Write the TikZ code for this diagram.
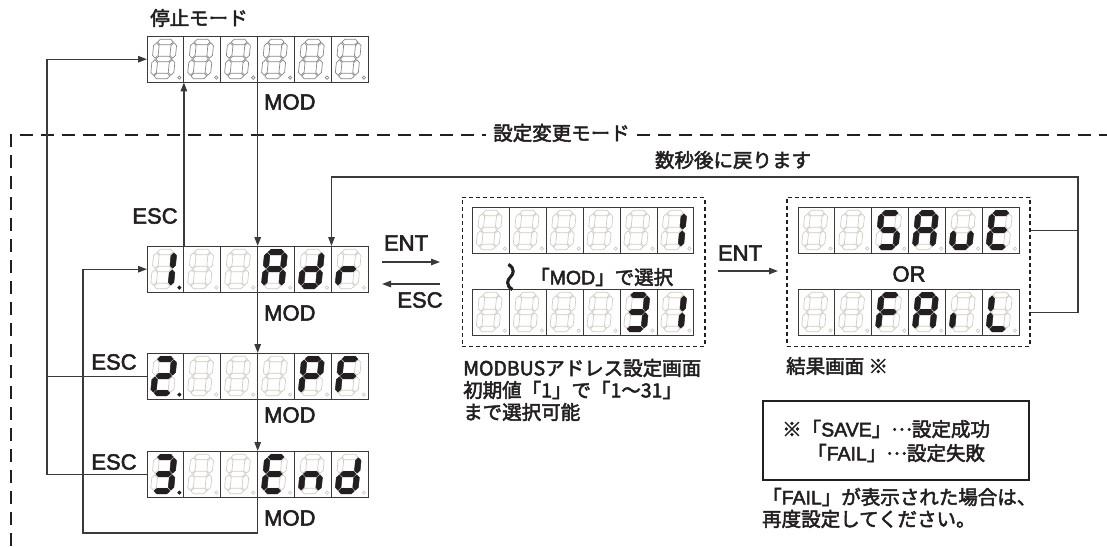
\documentclass[tikz,border=0pt]{standalone}
\usepackage{fontspec}
\setmainfont{Noto Sans CJK JP}[UprightFeatures={FakeBold=2.5}]
\newfontfamily\lat{Liberation Sans}[UprightFeatures={FakeBold=2.5}]
\usetikzlibrary{arrows.meta,calc}
\definecolor{ink}{HTML}{231F20}
\definecolor{ln}{HTML}{3A3A3A}
\definecolor{segoffc}{HTML}{CFCBC1}
\definecolor{segdark}{HTML}{868686}

\def\Xa{10.3}\def\Xb{27.7}\def\Ya{6}\def\Yb{40}\def\Ym{23}\def\Ht{2.8}\def\Gp{0.8}
\def\CW{36.9}

\newcommand\hseg[4]{\path[#1] ({#2},{#4}) -- ({#2+\Ht},{#4-\Ht}) -- ({#3-\Ht},{#4-\Ht}) -- ({#3},{#4}) -- ({#3-\Ht},{#4+\Ht}) -- ({#2+\Ht},{#4+\Ht}) -- cycle;}
\newcommand\vseg[4]{\path[#1] ({#2},{#3}) -- ({#2+\Ht},{#3+\Ht}) -- ({#2+\Ht},{#4-\Ht}) -- ({#2},{#4}) -- ({#2-\Ht},{#4-\Ht}) -- ({#2-\Ht},{#3+\Ht}) -- cycle;}
\def\sga#1{\hseg{#1}{\Xa+\Gp}{\Xb-\Gp}{\Ya}}
\def\sgd#1{\hseg{#1}{\Xa+\Gp}{\Xb-\Gp}{\Yb}}
\def\sgg#1{\hseg{#1}{\Xa+\Gp}{\Xb-\Gp}{\Ym}}
\def\sgf#1{\vseg{#1}{\Xa}{\Ya+\Gp}{\Ym-\Gp}}
\def\sgb#1{\vseg{#1}{\Xb}{\Ya+\Gp}{\Ym-\Gp}}
\def\sge#1{\vseg{#1}{\Xa}{\Ym+\Gp}{\Yb-\Gp}}
\def\sgc#1{\vseg{#1}{\Xb}{\Ym+\Gp}{\Yb-\Gp}}
\def\sgx#1{}
\newcommand\mdots{\raisebox{0.3em}{…}}

\newcommand\dispunit[4]{%
  \node[dispbox, anchor=north west] (#1) at #2 {};
  \foreach \segs/\dpv [count=\ci from 0] in {#4} {
    \begin{scope}[shift={($(#1.north west)+(\ci*\CW,0)$)}]
      \draw[cellbox] (0,0) rectangle (\CW,46);
      \begin{scope}[xslant=0.1]
        \foreach \q in {a,b,c,d,e,f,g} {\csname sg\q\endcsname{#3}}
        \foreach \q in \segs {\csname sg\q\endcsname{segon}}
      \end{scope}
      \ifnum\dpv=1 \path[segon] (32.4,41.6) circle (1.8);\else \path[#3] (32.4,41.6) circle (1.7);\fi
    \end{scope}
  }%
}

\begin{document}
\begin{tikzpicture}[x=1pt,y=-1pt,
  dispbox/.style={draw=none, minimum width=221.4pt, minimum height=46pt, inner sep=0pt},
  cellbox/.style={draw=ln, line width=0.9pt},
  segon/.style={fill=ink, draw=ink, line width=0.4pt},
  segoffL/.style={draw=segoffc, line width=0.7pt},
  segoffD/.style={draw=segdark, line width=0.7pt},
  conn/.style={draw=ln, line width=1.3pt},
  arr/.style={conn, -{Triangle[length=9pt,width=6.5pt]}},
  dotbox/.style={draw=ink, line width=1.6pt, dash pattern=on 4pt off 3pt, inner sep=0pt},
  bigdash/.style={draw=ink, line width=2pt, dash pattern=on 13pt off 8pt},
  lbl/.style={font=\lat\fontsize{22}{24}\selectfont, text=ink, inner sep=0pt},
  jp/.style={font=\fontsize{19.5}{22}\selectfont, text=ink, inner sep=0pt}]
\useasboundingbox (0,0) rectangle (1107,546);

% displays
\dispunit{top}{(147,36)}{segoffD}{{x}/0,{x}/0,{x}/0,{x}/0,{x}/0,{x}/0}
\dispunit{r1}{(147,246)}{segoffL}{{b,c}/1,{x}/0,{x}/0,{a,b,c,e,f,g}/0,{b,c,d,e,g}/0,{e,g}/0}
\dispunit{r2}{(147,353)}{segoffL}{{a,b,d,e,g}/1,{x}/0,{x}/0,{x}/0,{a,b,e,f,g}/0,{a,e,f,g}/0}
\dispunit{r3}{(147,451)}{segoffL}{{a,b,c,d,g}/1,{x}/0,{x}/0,{a,d,e,f,g}/0,{c,e,g}/0,{b,c,d,e,g}/0}
\dispunit{m1}{(472.5,207)}{segoffL}{{x}/0,{x}/0,{x}/0,{x}/0,{x}/0,{b,c}/0}
\dispunit{m2}{(472.5,289)}{segoffL}{{x}/0,{x}/0,{x}/0,{x}/0,{a,b,c,d,g}/0,{b,c}/0}
\dispunit{sv}{(798,207)}{segoffL}{{x}/0,{x}/0,{a,c,d,f,g}/0,{a,b,c,e,f,g}/0,{c,d,e}/0,{a,d,e,f,g}/0}
\dispunit{fl}{(798,289)}{segoffL}{{x}/0,{x}/0,{a,e,f,g}/0,{a,b,c,e,f,g}/0,{e}/0,{d,e,f}/0}

% boxes
\node[dotbox, minimum width=242.5pt, minimum height=149pt, anchor=north west] (mb) at (461.5,196.5) {};
\node[dotbox, minimum width=243pt, minimum height=149pt, anchor=north west] (rb) at (786,196.5) {};
\node[draw=ink, line width=1.6pt, minimum width=266pt, minimum height=79pt, inner sep=0pt, anchor=north west] (note) at (762,400) {};

% big dashed frame
\node[jp] (mode) at (561.5,133) {設定変更モード};
\coordinate (fbl) at (11,546);
\coordinate (ftl) at (11,135);
\coordinate (fa) at (486,135);
\coordinate (fb) at (637,135);
\coordinate (fr) at (1107,135);
\draw[bigdash] (fbl) -- (ftl) -- (fa);
\draw[bigdash] (fb) -- (fr);

% connection points
\coordinate (top1) at ($(top.south west)+(\CW,0)$);
\coordinate (top3) at ($(top.south west)+(3*\CW,0)$);
\coordinate (r1n1) at ($(r1.north west)+(\CW,0)$);
\coordinate (r1n3) at ($(r1.north west)+(3*\CW,0)$);
\coordinate (r1n5) at ($(r1.north west)+(5*\CW,0)$);
\coordinate (r1s3) at ($(r1.south west)+(3*\CW,0)$);
\coordinate (r2n3) at ($(r2.north west)+(3*\CW,0)$);
\coordinate (r2s3) at ($(r2.south west)+(3*\CW,0)$);
\coordinate (r3n3) at ($(r3.north west)+(3*\CW,0)$);
\coordinate (r3s3) at ($(r3.south west)+(3*\CW,0)$);
\coordinate (L) at (47,0);
\coordinate (B) at (83,533);
\coordinate (Rx) at (1078,0);
\coordinate (Ry) at (0,177);

% vertical chain
\draw[arr] (r1n1) -- (top1);
\draw[arr] (top3) -- (r1n3);
\draw[arr] (r1s3) -- (r2n3);
\draw[arr] (r2s3) -- (r3n3);
\draw[arr] (r3s3) -- (r3s3 |- B) -- (B) -- (B |- r1.west) -- (r1.west);
\draw[arr] (r3.west) -- (r3.west -| L) -- (L |- top.west) -- (top.west);
\draw[conn] (r2.west) -- (r2.west -| L);

% return loop
\draw[conn] (sv.east -| rb.east) -- (sv.east -| Rx);
\draw[arr] (fl.east -| rb.east) -- (fl.east -| Rx) -- (Rx |- Ry) -- (r1n5 |- Ry) -- (r1n5);

% ENT / ESC arrows
\coordinate (e1a) at (382,262);
\coordinate (e1b) at (440,262);
\coordinate (s1a) at (440,284);
\coordinate (s1b) at (382,284);
\coordinate (e2a) at (718,271);
\coordinate (e2b) at (778,271);
\draw[arr] (e1a) -- (e1b);
\draw[arr] (s1a) -- (s1b);
\draw[arr] (e2a) -- (e2b);

% labels
\node[jp] (stop) at (199,18) {停止モード};
\node[lbl, anchor=west] (mod0) at (264,102) {MOD};
\node[lbl, anchor=west] (mod1) at (264,313) {MOD};
\node[lbl, anchor=west] (mod2) at (264,415) {MOD};
\node[lbl, anchor=west] (mod3) at (264,518) {MOD};
\node[lbl] (esc1) at (155,216) {ESC};
\node[lbl] (esc2) at (114,362) {ESC};
\node[lbl] (esc3) at (114,462) {ESC};
\node[lbl] (ent1) at (406,243) {ENT};
\node[lbl] (esc4) at (420,300) {ESC};
\node[lbl] (ent2) at (740,253) {ENT};
\node[lbl] (or) at (909,274) {OR};
\node[jp] (back) at (733,160) {数秒後に戻ります};
\node[jp, rotate=90, scale=1.5] (wv) at (514,277) {〜};
\node[jp, anchor=west] (sel) at (530,277) {「{\lat MOD}」で選択};
\node[jp, anchor=west] (cap1) at (463,368) {MODBUSアドレス設定画面};
\node[jp, anchor=west] (cap2) at (463,390) {初期値「1」で「1～31」};
\node[jp, anchor=west] (cap3) at (463,412) {まで選択可能};
\node[jp, anchor=west] (res) at (786,366) {結果画面 ※};
\node[jp, anchor=west] (n1) at (782,429) {※「{\lat SAVE}」\mdots 設定成功};
\node[jp, anchor=west] (n2) at (807,453) {「{\lat FAIL}」\mdots 設定失敗};
\node[jp, anchor=west] (n3) at (762,497) {「{\lat FAIL}」が表示された場合は、};
\node[jp, anchor=west] (n4) at (762,519) {再度設定してください。};
\end{tikzpicture}
\end{document}
